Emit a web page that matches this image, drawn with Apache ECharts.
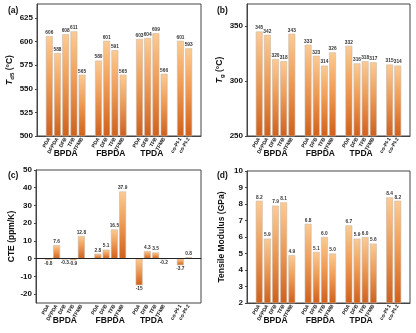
<!DOCTYPE html>
<html><head><meta charset="utf-8">
<script src="https://cdn.jsdelivr.net/npm/echarts@6/dist/echarts.min.js"></script>
<style>html,body{margin:0;padding:0;background:#fff}#c{width:416px;height:333px}</style>
</head><body><div id="c"></div><script>
// ---- data ----
const groupNames = ['BPDA', 'FBPDA', 'TPDA', ''];
const groupMembers = [
  ['PDA', 'DFPDA', 'DFB', 'TFB', 'TFMB'],
  ['PDA', 'DFB', 'TFB', 'TFMB'],
  ['PDA', 'DFB', 'TFB', 'TFMB'],
  ['co-PI-1', 'co-PI-2']
];
const td5 = [[606, 588, 608, 611, 565], [580, 601, 591, 565], [603, 604, 609, 566], [601, 593]];
const tg = [[345, 342, 320, 318, 343], [333, 323, 314, 326], [332, 316, 318, 317], [315, 314]];
const cte = [[-0.8, 7.6, -0.3, -0.9, 12.8], [2.8, 5.1, 16.5, 37.9], [-15, 4.3, 3.5, -0.2], [-3.7, 0.8]];
const modulus = [[8.2, 5.9, 7.9, 8.1, 4.9], [6.8, 5.1, 6.0, 5.0], [6.7, 5.9, 6.0, 5.6], [8.4, 8.2]];
const panelLabels = ['(a)', '(b)', '(c)', '(d)'];
const yNames = ['{t|T}{s|d5}{n| (°C)}', '{t|T}{s|g}{n| (°C)}', 'CTE (ppm/K)', 'Tensile Modulus (GPa)'];
const yA = { min: 500, max: 640, ticks: [500, 525, 550, 575, 600, 625] };
const yB = { min: 250, max: 370, ticks: [250, 300, 350] };
const yC = { min: -25, max: 50, ticks: [-20, -10, 0, 10, 20, 30, 40, 50] };
const yD = { min: 2, max: 10, ticks: [2, 3, 4, 5, 6, 7, 8, 9, 10] };

// ---- build categories (blank slot at each end and between groups) ----
const cats = [''];
const centers = [];
groupMembers.forEach((m, gi) => {
  const start = cats.length;
  m.forEach(n => cats.push(n));
  if (groupNames[gi]) centers.push({ v: start + m.length / 2, name: groupNames[gi] });
  cats.push('');
});
function flat(vals) {
  const out = ['-'];
  vals.forEach(g => { g.forEach(v => out.push(v)); out.push('-'); });
  return out;
}

const FF = '"Liberation Sans", Arial, sans-serif';
const grids = [
  { left: 37, top: 4, width: 164, height: 132 },
  { left: 247, top: 4, width: 163, height: 132 },
  { left: 36, top: 170, width: 165, height: 133 },
  { left: 247, top: 171, width: 163, height: 132 }
];
const yCfg = [yA, yB, yC, yD];
const datasets = [td5, tg, cte, modulus];
const fmts = [v => String(v), v => String(v), v => String(v), v => v.toFixed(1)];
const nameGaps = [22, 22, 19, 21];

const barColor = {
  type: 'linear', x: 0, y: 0, x2: 0, y2: 1,
  colorStops: [{ offset: 0, color: '#fccb93' }, { offset: 0.45, color: '#ef9d57' }, { offset: 1, color: '#cf601b' }]
};

const option = {
  animation: false,
  backgroundColor: '#fff',
  textStyle: { fontFamily: FF },
  title: panelLabels.map((t, i) => ({
    text: t, left: i % 2 ? 212 : 3, top: i < 2 ? 1 : 166,
    textStyle: { fontSize: 8.5, fontWeight: 'bold', color: '#111', fontFamily: FF }
  })),
  grid: grids.map(g => Object.assign({ show: true, borderColor: '#444', borderWidth: 1, backgroundColor: 'transparent' }, g)),
  xAxis: [],
  yAxis: [],
  series: []
};

grids.forEach((g, i) => {
  option.xAxis.push({
    type: 'category', gridIndex: i, data: cats, position: 'bottom',
    axisLine: { show: true, lineStyle: { color: '#444', width: 1 } },
    axisTick: { show: false },
    axisLabel: { interval: 0, rotate: 60, fontSize: 5.1, fontWeight: 'bold', color: '#222', margin: 2, fontFamily: FF },
    splitLine: { show: false }
  });
  option.xAxis.push({
    type: 'value', gridIndex: i, position: 'bottom', min: 0, max: cats.length,
    axisLine: { show: false }, axisTick: { show: false }, splitLine: { show: false },
    axisLabel: {
      customValues: centers.map(c => c.v), margin: 13,
      fontSize: 8.5, fontWeight: 'bold', color: '#111', fontFamily: FF,
      formatter: v => { const c = centers.find(c => Math.abs(c.v - v) < 1e-6); return c ? c.name : ''; }
    }
  });
  const y = yCfg[i];
  option.yAxis.push({
    type: 'value', gridIndex: i, min: y.min, max: y.max,
    name: yNames[i], nameLocation: 'middle', nameGap: nameGaps[i], nameRotate: 90,
    nameTextStyle: {
      fontSize: 8.5, fontWeight: 'bold', color: '#111', fontFamily: FF,
      rich: {
        t: { fontSize: 8.5, fontWeight: 'bold', fontStyle: 'italic', fontFamily: FF, color: '#111' },
        s: { fontSize: 6, fontWeight: 'bold', fontFamily: FF, color: '#111', verticalAlign: 'bottom', padding: [4, 0, 0, 0] },
        n: { fontSize: 8.5, fontWeight: 'bold', fontFamily: FF, color: '#111' }
      }
    },
    axisLine: { show: true, lineStyle: { color: '#444', width: 1 } },
    axisTick: { show: true, customValues: y.ticks, length: 2, lineStyle: { color: '#444' } },
    axisLabel: { customValues: y.ticks, fontSize: 8, fontWeight: 'bold', color: '#111', margin: 4, fontFamily: FF },
    splitLine: { show: false }
  });
  const vals = flat(datasets[i]);
  const s = {
    type: 'bar', xAxisIndex: i * 2, yAxisIndex: i,
    barWidth: '84%',
    data: vals.map(v => v === '-' ? '-' : {
      value: v,
      label: { position: v < 0 ? 'bottom' : 'top' }
    }),
    itemStyle: { color: barColor, borderColor: '#c9b9a9', borderWidth: 0.6 },
    label: {
      show: true, distance: 1, fontSize: 4.8, fontWeight: 'bold', color: '#333', fontFamily: FF,
      formatter: p => fmts[i](p.value)
    }
  };
  if (i === 2) {
    s.markLine = {
      silent: true, symbol: 'none', label: { show: false },
      lineStyle: { color: '#222', width: 1, type: 'solid' },
      data: [{ yAxis: 0 }]
    };
  }
  option.series.push(s);
});

const chart = echarts.init(document.getElementById('c'), null, { renderer: 'canvas' });
chart.setOption(option);
</script></body></html>
